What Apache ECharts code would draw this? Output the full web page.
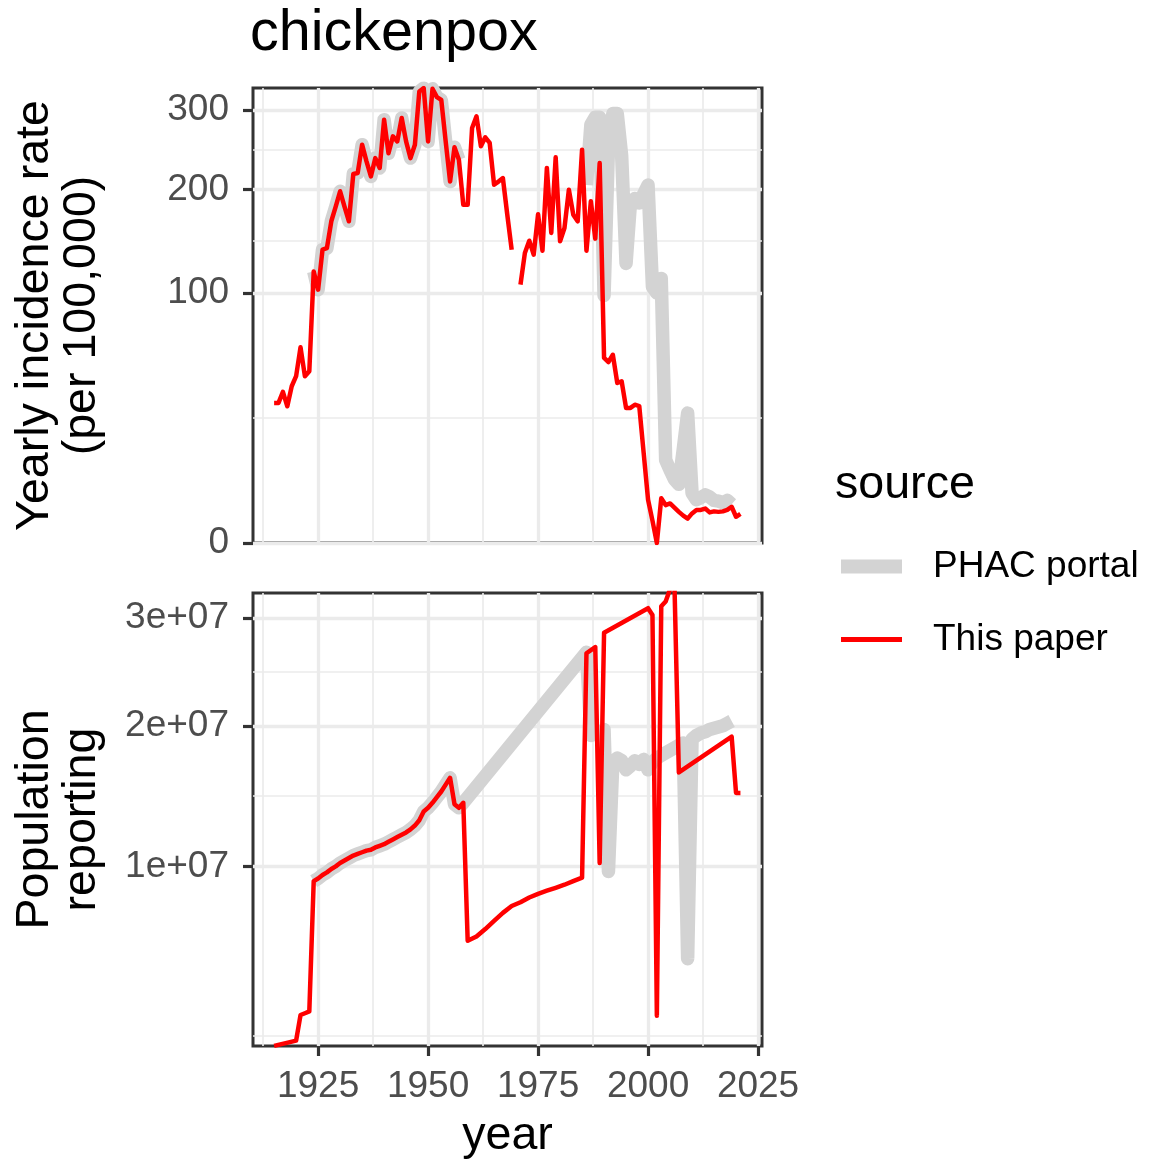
<!DOCTYPE html>
<html>
<head>
<meta charset="utf-8">
<title>chickenpox</title>
<script src="https://cdn.jsdelivr.net/npm/echarts@6/dist/echarts.min.js"></script>
<style>
  html, body { margin: 0; padding: 0; background: #ffffff; }
  #chart { width: 1149px; height: 1161px; }
</style>
</head>
<body>
<div id="chart"></div>
<script>
// ---- data ----
// yearly incidence per 100,000, "This paper", 1915..2021 (null = no value)
const paperRateStart = 1915;
const paperRate = [
  31.4, 31.4, 36.5, 29.9, 39.3, 44.5, 61.3, 44.5, 47.2, 118,      // 1915-1924
  102.7, 137.6, 139, 165.6, 181, 197.9, 181, 165.6, 217.9, 219,  // 1925-1934
  253.8, 233, 215, 237, 225, 286.7, 243, 264.6, 258, 289,        // 1935-1944
  258, 237, 253.8, 326, 331, 258, 330, 318, 314, 258,            // 1945-1954
  209, 250.5, 235, 183, 183, 275.6, 291.3, 251.8, 263.3, 256,    // 1955-1964
  205.4, 209, 213, 172.5, 137.6, null, 106.8, 134.6, 146.2, 133, // 1965-1974
  173, 136.7, 225, 153.8, 238, 145.6, 158.8, 199.7, 172.5, 165.6,// 1975-1984
  247.5, 136.7, 186.8, 148.2, 231, 54.8, 52.4, 56.7, 41, 41.8,   // 1985-1994
  29.2, 29.2, 30.6, 30, 13, 3.0, 0.8, 0, 3.2, 2.3,               // 1995-2004
  2.5, 2.0, 1.55, 1.2, 0.95, 1.4, 1.75, 1.75, 1.9, 1.5,          // 2005-2014
  1.6, 1.55, 1.6, 1.75, 2.1, 1.1, 1.35                           // 2015-2021
];

// PHAC portal incidence: same as above for 1924-1957, then 1986..2019
const portalEarlyYears = [1924, 1957];
const portalRateStart = 1986;
const portalRate = [
  205, 280, 290, 290, 98, 250, 295, 295, 240, 125,   // 1986-1995
  185, 190, 185, 195, 205, 105, 100, 112, 11, 8.5,   // 1996-2005
  6.5, 5.5, 14, 27, 4.0, 3.0, 3.3, 3.7, 3.4, 2.9,    // 2006-2015
  2.8, 2.6, 2.9, 2.4                                 // 2016-2019
];

// population reporting (millions), "This paper"
const paperPopYears = [
  1915, 1920, 1921, 1922, 1923,
  1924, 1925, 1926, 1927, 1928, 1929, 1930, 1931, 1932, 1933,
  1934, 1935, 1936, 1937, 1938, 1939, 1940, 1941, 1942, 1943,
  1944, 1945, 1946, 1947, 1948, 1949, 1950, 1951, 1952, 1953,
  1954, 1955, 1956, 1957, 1958, 1959,
  1961, 1963, 1965, 1967, 1969, 1971, 1973, 1975, 1977, 1979, 1981, 1983, 1985,
  1986, 1988, 1989, 1990,
  2000, 2001, 2002, 2003, 2004, 2005, 2006, 2007,
  2019, 2020, 2021
];
const paperPop = [
  2.22, 2.37, 3.16, 3.22, 3.28,
  9.15, 9.3, 9.5, 9.65, 9.85, 10.0, 10.2, 10.35, 10.5, 10.65,
  10.75, 10.85, 10.95, 11.0, 11.15, 11.25, 11.35, 11.5, 11.65, 11.8,
  11.95, 12.1, 12.3, 12.55, 12.9, 13.5, 13.75, 14.1, 14.5, 14.9,
  15.4, 15.9, 14.0, 13.75, 14.1, 6.1,
  6.3, 6.65, 7.05, 7.45, 7.8, 8.0, 8.25, 8.45, 8.62, 8.78, 8.95, 9.15, 9.35,
  26.5, 27.1, 10.2, 28.5,
  31.0, 30.3, 3.14, 31.2, 31.7, 33.0, 33.5, 16.3,
  19.1, 14.8, 14.8
];

// PHAC portal population: same as above for 1924-1958, then 1986..2019
const portalPopEarlyYears = [1924, 1958];
const portalPopStart = 1986;
const portalPop = [
  26.6, 19.2, 19.4, 19.3, 19.7, 9.7, 17.1, 17.4, 17.2, 16.5,  // 1986-1995
  16.8, 17.2, 16.9, 17.3, 16.5, 17.1, 17.4, 17.6, 17.8, 18.0, // 1996-2005
  18.2, 18.4, 18.6, 5.3, 18.9, 19.2, 19.4, 19.5, 19.7, 19.8,  // 2006-2015
  19.9, 20.0, 20.2, 20.4                                      // 2016-2019
];

// axes
const xMajor = [1925, 1950, 1975, 2000, 2025];
const xMinor = [1912.5, 1937.5, 1962.5, 1987.5, 2012.5];
const xLimits = [1910.2, 2025.9];
const rateBreaks = [0, 100, 200, 300];
const rateLimits = [0, 331.2];
const popBreaks = [0, 1e7, 2e7, 3e7];
const popLimits = [2.2174e6, 3.2595e7];

// ---- build ----
const FONT = 'Liberation Sans';
const sq = Math.sqrt;

function yearly(start, vals) {
  return vals.map((v, i) => [start + i, v == null ? '-' : sq(v)]);
}
function paired(years, vals, k) {
  return years.map((y, i) => [y, sq(vals[i] * k)]);
}
// ggplot-style minor breaks: midpoints of the transformed major breaks
function minorOf(breaks) {
  const t = breaks.map(sq), out = [];
  for (let i = 0; i < t.length - 1; i++) out.push((t[i] + t[i + 1]) / 2);
  return out;
}

const paperRateData = yearly(paperRateStart, paperRate);
const portalRateData = paperRateData
  .filter(d => d[0] >= portalEarlyYears[0] && d[0] <= portalEarlyYears[1])
  .concat([[portalEarlyYears[1] + 1, '-']], yearly(portalRateStart, portalRate));

const paperPopData = paired(paperPopYears, paperPop, 1e6);
const portalPopData = paperPopData
  .filter(d => d[0] >= portalPopEarlyYears[0] && d[0] <= portalPopEarlyYears[1])
  .concat(yearly(portalPopStart, portalPop.map(v => v * 1e6)));

const gridLine = { color: '#EBEBEB', width: 3.3 };
const minorLine = { color: '#EBEBEB', width: 1.65 };
const tickStyle = { color: '#333333', width: 3.2 };
const labelStyle = { fontSize: 37, color: '#4D4D4D', fontFamily: FONT };
const nameStyle = { fontSize: 46.6, lineHeight: 47, color: '#000000', fontFamily: FONT };

function xAxes(gridIndex, bottom) {
  return [{
    type: 'value', gridIndex: gridIndex, min: xLimits[0], max: xLimits[1], position: 'bottom',
    axisLine: { show: false },
    axisTick: { show: bottom, customValues: xMajor, length: 10, lineStyle: tickStyle },
    axisLabel: Object.assign({ show: bottom, customValues: xMajor, margin: 22, formatter: v => String(v) }, labelStyle),
    splitLine: { show: true, lineStyle: gridLine },
    name: bottom ? 'year' : '', nameLocation: 'middle', nameGap: 67, nameTextStyle: nameStyle
  }, {
    type: 'value', gridIndex: gridIndex, min: xLimits[0], max: xLimits[1], position: 'top',
    axisLine: { show: false },
    axisTick: { show: false, customValues: xMinor },
    axisLabel: { show: false, customValues: xMinor },
    splitLine: { show: true, lineStyle: minorLine }
  }];
}

function yAxes(gridIndex, breaks, limits, fmt, name) {
  const major = breaks.map(sq).filter(v => v >= sq(limits[0]) && v <= sq(limits[1]));
  return [{
    type: 'value', gridIndex: gridIndex, min: sq(limits[0]), max: sq(limits[1]), position: 'left',
    axisLine: { show: false },
    axisTick: { show: true, customValues: major, length: 10, lineStyle: tickStyle },
    axisLabel: Object.assign({ customValues: major, margin: 24, formatter: fmt, padding: [8, 0, 0, 0] }, labelStyle),
    splitLine: { show: true, lineStyle: gridLine },
    name: name, nameLocation: 'middle', nameRotate: 90, nameGap: 147, nameTextStyle: nameStyle
  }, {
    type: 'value', gridIndex: gridIndex, min: sq(limits[0]), max: sq(limits[1]), position: 'right',
    axisLine: { show: false },
    axisTick: { show: false, customValues: minorOf(breaks) },
    axisLabel: { show: false, customValues: minorOf(breaks) },
    splitLine: { show: true, lineStyle: minorLine }
  }];
}

function lineSeries(name, xi, yi, data, color, width, z) {
  return {
    type: 'line', name: name, xAxisIndex: xi, yAxisIndex: yi, data: data,
    showSymbol: false, symbol: 'none', clip: true, silent: true, z: z,
    color: color, itemStyle: { color: color },
    lineStyle: { color: color, width: width, join: 'round', cap: 'butt' }
  };
}

const chart = echarts.init(document.getElementById('chart'), null, { renderer: 'canvas' });
chart.setOption({
  animation: false,
  backgroundColor: '#ffffff',
  title: [
    { text: 'chickenpox', left: 250, top: 5, padding: 0,
      textStyle: { fontSize: 57.5, fontWeight: 'normal', color: '#000000', fontFamily: FONT } },
    { text: 'source', left: 835, top: 462, padding: 0,
      textStyle: { fontSize: 46.6, fontWeight: 'normal', color: '#000000', fontFamily: FONT } }
  ],
  legend: [
    { data: ['PHAC portal'], left: 841, top: 548, padding: 0, icon: 'rect',
      itemWidth: 61, itemHeight: 14, selectedMode: false, itemStyle: { borderWidth: 0 },
      formatter: n => '{g|}' + n,
      textStyle: { fontSize: 37, color: '#000000', fontFamily: FONT, rich: { g: { width: 26 } } } },
    { data: ['This paper'], left: 841, top: 621, padding: 0, icon: 'rect',
      itemWidth: 61, itemHeight: 5, selectedMode: false, itemStyle: { borderWidth: 0 },
      formatter: n => '{g|}' + n,
      textStyle: { fontSize: 37, color: '#000000', fontFamily: FONT, rich: { g: { width: 26 } } } }
  ],
  grid: [
    { left: 253, top: 88, width: 509, height: 455, show: true, borderColor: '#333333', borderWidth: 3, backgroundColor: '#ffffff' },
    { left: 253, top: 593, width: 509, height: 454, show: true, borderColor: '#333333', borderWidth: 3, backgroundColor: '#ffffff' }
  ],
  xAxis: xAxes(0, false).concat(xAxes(1, true)),
  yAxis: yAxes(0, rateBreaks, rateLimits, v => String(Math.round(v * v)), 'Yearly incidence rate\n(per 100,000)')
    .concat(yAxes(1, popBreaks, popLimits, v => Math.round(v * v / 1e7) + 'e+07', 'Population\nreporting')),
  series: [
    lineSeries('PHAC portal', 0, 0, portalRateData, '#D3D3D3', 13.5, 2),
    lineSeries('This paper', 0, 0, paperRateData, '#FF0000', 4.5, 3),
    lineSeries('PHAC portal', 2, 2, portalPopData, '#D3D3D3', 13.5, 2),
    lineSeries('This paper', 2, 2, paperPopData, '#FF0000', 4.5, 3)
  ]
});
</script>
</body>
</html>
